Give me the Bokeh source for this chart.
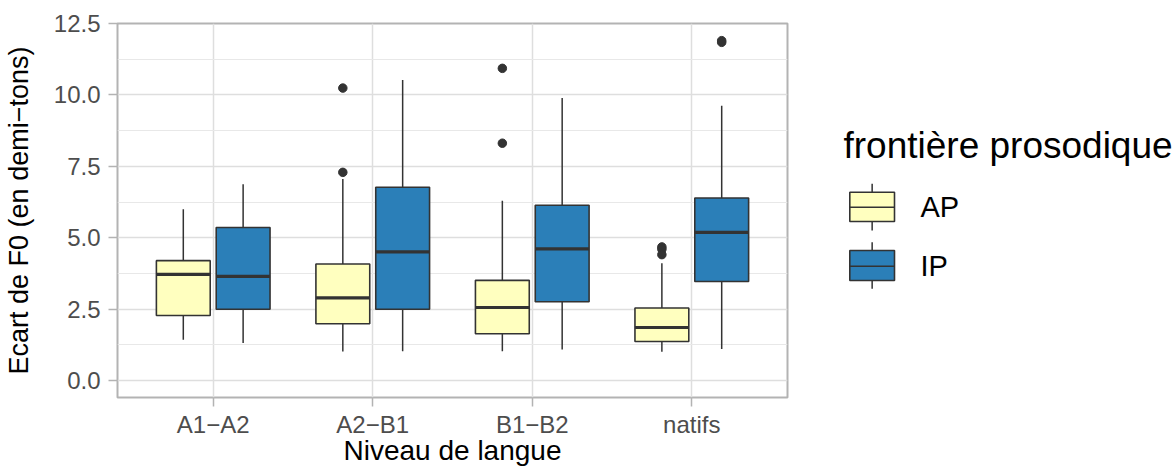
from bokeh.plotting import figure
from bokeh.models import (ColumnDataSource, FactorRange, Range1d, FixedTicker,
                          NumeralTickFormatter)
from bokeh.transform import dodge
from bokeh.layouts import row
from bokeh.core.properties import value
from bokeh.embed import file_html
from bokeh.resources import INLINE

# ---------------- data ----------------
niveaux = ["A1\u2212A2", "A2\u2212B1", "B1\u2212B2", "natifs"]
groupes = ["AP", "IP"]

ap_lower = [1.43, 1.02, 1.03, 1.01]
ap_q1 = [2.28, 1.99, 1.64, 1.37]
ap_median = [3.72, 2.90, 2.56, 1.86]
ap_q3 = [4.20, 4.08, 3.51, 2.54]
ap_upper = [6.00, 7.06, 6.30, 4.11]

ip_lower = [1.32, 1.03, 1.09, 1.11]
ip_q1 = [2.50, 2.50, 2.76, 3.47]
ip_median = [3.65, 4.51, 4.61, 5.19]
ip_q3 = [5.36, 6.77, 6.14, 6.39]
ip_upper = [6.87, 10.52, 9.89, 9.62]

outlier_niveau = ["A2\u2212B1", "A2\u2212B1", "B1\u2212B2", "B1\u2212B2",
                  "natifs", "natifs", "natifs", "natifs", "natifs"]
outlier_groupe = ["AP", "AP", "AP", "AP", "AP", "AP", "AP", "IP", "IP"]
outlier_value = [10.24, 7.29, 10.93, 8.31, 4.68, 4.60, 4.41, 11.84, 11.90]

y_ticks = [0, 2.5, 5, 7.5, 10, 12.5]
y_minor = [1.25, 3.75, 6.25, 8.75, 11.25]

# ---------------- style ----------------
FONT = "Liberation Sans"
fills = {"AP": "#FFFFBF", "IP": "#2B7FB8"}
offsets = {"AP": -0.1875, "IP": 0.1875}
BOX_W = 0.3375
EDGE = "#333333"
TOP, BOTTOM = 23, 71          # vertical borders shared by both panels
H = 468
MAIN_W = 808

p = figure(width=MAIN_W, height=H, output_backend="svg", toolbar_location=None,
           title=None,
           x_range=FactorRange(factors=niveaux, range_padding=0.1,
                               range_padding_units="absolute"),
           y_range=Range1d(-0.59, 12.5),
           min_border_left=117, min_border_right=21,
           min_border_top=TOP, min_border_bottom=BOTTOM)
p.background_fill_color = "white"
p.border_fill_color = "white"
p.outline_line_color = "#B3B3B3"
p.outline_line_width = 2

stats = {
    "AP": (ap_lower, ap_q1, ap_median, ap_q3, ap_upper),
    "IP": (ip_lower, ip_q1, ip_median, ip_q3, ip_upper),
}

for g in groupes:
    lo, q1, med, q3, up = stats[g]
    src = ColumnDataSource(dict(niveau=niveaux, lower=lo, q1=q1, med=med, q3=q3, upper=up))
    off = offsets[g]
    xc = dodge("niveau", off, range=p.x_range)
    p.segment(x0=xc, y0="q3", x1=xc, y1="upper", source=src,
              line_color=EDGE, line_width=1.5)
    p.segment(x0=xc, y0="q1", x1=xc, y1="lower", source=src,
              line_color=EDGE, line_width=1.5)
    p.vbar(x=xc, top="q3", bottom="q1", width=BOX_W, source=src,
           fill_color=fills[g], line_color=EDGE, line_width=1.6)
    p.segment(x0=dodge("niveau", off - BOX_W / 2, range=p.x_range), y0="med",
              x1=dodge("niveau", off + BOX_W / 2, range=p.x_range), y1="med",
              source=src, line_color=EDGE, line_width=3.2)
    osrc = ColumnDataSource(dict(
        niveau=[n for n, gg in zip(outlier_niveau, outlier_groupe) if gg == g],
        val=[v for v, gg in zip(outlier_value, outlier_groupe) if gg == g]))
    p.scatter(x=xc, y="val", source=osrc, size=8.5, marker="circle",
              fill_color=EDGE, line_color=EDGE)

# axes
p.yaxis.ticker = FixedTicker(ticks=y_ticks, minor_ticks=y_minor)
p.yaxis.formatter = NumeralTickFormatter(format="0.0")
for ax in (p.xaxis[0], p.yaxis[0]):
    ax.axis_line_color = None
    ax.major_tick_line_color = "#B3B3B3"
    ax.major_tick_line_width = 1.5
    ax.major_tick_in = 0
    ax.major_tick_out = 9
    ax.minor_tick_line_color = None
    ax.major_label_text_font = FONT
    ax.major_label_text_font_size = "24px"
    ax.major_label_text_color = "#4D4D4D"
    ax.axis_label_text_font = FONT
    ax.axis_label_text_font_style = "normal"
    ax.axis_label_text_color = "black"
p.yaxis.major_label_standoff = 8
p.xaxis.major_label_standoff = 4
p.yaxis.axis_label = "Ecart de F0 (en demi\u2212tons)"
p.yaxis.axis_label_text_font_size = "27px"
p.yaxis.axis_label_standoff = 17
p.xaxis.axis_label = "Niveau de langue"
p.xaxis.axis_label_text_font_size = "28px"
p.xaxis.axis_label_standoff = -6

p.xgrid.grid_line_color = "#DEDEDE"
p.xgrid.grid_line_width = 1.5
p.ygrid.grid_line_color = "#DEDEDE"
p.ygrid.grid_line_width = 1.5
p.ygrid.minor_grid_line_color = "#E8E8E8"
p.ygrid.minor_grid_line_width = 1

# ---------------- legend panel (coordinates = page pixels) ----------------
LW = 1176 - MAIN_W
lg = figure(width=LW, height=H, output_backend="svg",
            toolbar_location=None, title=None,
            x_range=Range1d(MAIN_W, 1176), y_range=Range1d(H - BOTTOM, TOP),
            x_axis_type=None, y_axis_type=None,
            min_border_left=0, min_border_right=0,
            min_border_top=TOP, min_border_bottom=BOTTOM)
lg.outline_line_color = None
lg.background_fill_color = "white"
lg.border_fill_color = "white"

lg.text(x=[843], y=[145], text=["frontière prosodique"], text_font=value(FONT),
        text_font_size="37px", text_baseline="alphabetic", text_align="left",
        text_color="black")

key_x0, key_x1 = 849.3, 894.0
key_cx = (key_x0 + key_x1) / 2
keys = {"AP": (183.3, 191.7, 206.7, 221.0, 230.0, 206.8),
        "IP": (241.7, 250.0, 265.7, 280.0, 288.3, 265.8)}
for g in groupes:
    wt, bt, md, bb, wb, tb = keys[g]
    lg.segment(x0=[key_cx, key_cx], y0=[wt, bb], x1=[key_cx, key_cx], y1=[bt, wb],
               line_color=EDGE, line_width=1.5)
    lg.quad(left=[key_x0], right=[key_x1], top=[bt], bottom=[bb],
            fill_color=fills[g], line_color=EDGE, line_width=1.6)
    lg.segment(x0=[key_x0], y0=[md], x1=[key_x1], y1=[md],
               line_color=EDGE, line_width=1.6)
    lg.text(x=[920], y=[tb], text=[g], text_font=value(FONT),
            text_font_size="29px", text_baseline="alphabetic",
            text_align="left", text_color="black")

layout = row(p, lg)
open("out.html", "w").write(file_html(layout, INLINE))
